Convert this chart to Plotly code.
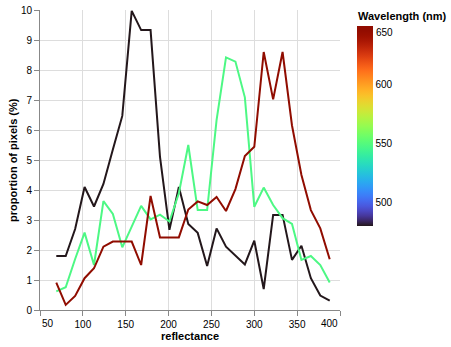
import plotly.graph_objects as go

# reflectance bin centres
reflectance = [69, 80, 91, 102, 113, 124, 135, 146, 157, 168,
               179, 190, 201, 212, 223, 234, 245, 256, 267, 278,
               289, 300, 311, 322, 333, 344, 355, 366, 377, 388]

# wavelengths (nm) of the three series
wavelengths = [480, 548, 650]

prop_480 = [1.8, 1.8, 2.7, 4.1, 3.45, 4.2, 5.35, 6.47, 9.97, 9.33,
            9.33, 5.1, 2.67, 4.1, 2.87, 2.57, 1.47, 2.72, 2.11, 1.83,
            1.52, 2.31, 0.7, 3.17, 3.17, 1.67, 2.14, 1.06, 0.48, 0.31]

prop_548 = [0.62, 0.76, 1.7, 2.58, 1.5, 3.63, 3.2, 2.09, 2.78, 3.47,
            3.02, 3.18, 2.95, 3.89, 5.5, 3.33, 3.33, 6.33, 8.42, 8.28,
            7.09, 3.44, 4.08, 3.5, 3.06, 2.87, 1.67, 1.8, 1.5, 0.92]

prop_650 = [0.91, 0.17, 0.47, 1.06, 1.39, 2.11, 2.28, 2.28, 2.28, 1.5,
            3.8, 2.42, 2.42, 2.42, 3.35, 3.62, 3.5, 3.77, 3.3, 4.03,
            5.13, 5.44, 8.6, 7.02, 8.6, 6.15, 4.5, 3.33, 2.72, 1.69]

series = [prop_480, prop_548, prop_650]

x_ticks = [50, 100, 150, 200, 250, 300, 350, 400]
y_ticks = [0, 1, 2, 3, 4, 5, 6, 7, 8, 9, 10]
colorbar_ticks = [500, 550, 600, 650]

wl_min, wl_max = 480, 650


def turbo(t):
    t = max(0.0, min(1.0, t))
    r = 34.61 + t * (1172.33 - t * (10793.56 - t * (33300.12 - t * (38394.49 - t * 14825.05))))
    g = 23.31 + t * (557.33 + t * (1225.33 - t * (3574.96 - t * (1073.77 + t * 707.56))))
    b = 27.2 + t * (3211.1 - t * (15327.97 - t * (27814 - t * (22569.18 - t * 6838.66))))
    c = [max(0, min(255, round(v))) for v in (r, g, b)]
    return "rgb(%d,%d,%d)" % tuple(c)


colorscale = [[i / 40, turbo(i / 40)] for i in range(41)]

FONT = "Liberation Sans, Arial, Helvetica, sans-serif"

# plot area in pixels
L, T, W, H = 40, 10, 300, 300
FIG_W, FIG_H = 451, 347


def px_x(p):
    return (p - L) / W


def px_y(p):
    return (T + H - p) / H


fig = go.Figure()
for wl, vals in zip(wavelengths, series):
    fig.add_trace(go.Scatter(
        x=reflectance, y=vals, mode="lines",
        line=dict(color=turbo((wl - wl_min) / (wl_max - wl_min)), width=2),
        showlegend=False, hoverinfo="skip",
    ))

bar_left, bar_top, bar_len, bar_th = 357, 26, 200, 16

# colour bar carrier
fig.add_trace(go.Scatter(
    x=[None], y=[None], mode="markers", showlegend=False,
    marker=dict(color=[wl_min], cmin=wl_min, cmax=wl_max, colorscale=colorscale,
                showscale=True,
                colorbar=dict(
                    x=px_x(bar_left), xanchor="left", xpad=0,
                    y=px_y(bar_top), yanchor="top", ypad=0,
                    lenmode="pixels", len=bar_len, thickness=bar_th,
                    outlinewidth=0, ticks="", tickvals=colorbar_ticks[:-1],
                    tickfont=dict(size=10, color="#000", family=FONT),
                )),
))

# top colorbar label (top-aligned like the reference)
fig.add_annotation(
    text=str(colorbar_ticks[-1]), xref="paper", yref="paper",
    x=px_x(bar_left + bar_th + 1), y=px_y(bar_top - 1), xanchor="left", yanchor="top",
    showarrow=False, font=dict(size=10, color="#000", family=FONT),
)

# flush end labels of the x axis
fig.add_annotation(
    text=str(x_ticks[0]), xref="x", yref="paper",
    x=x_ticks[0], y=px_y(316), xanchor="left", yanchor="top",
    showarrow=False, font=dict(size=10, color="#000", family=FONT),
)
fig.add_annotation(
    text=str(x_ticks[-1]), xref="x", yref="paper",
    x=x_ticks[-1], y=px_y(316), xanchor="right", yanchor="top",
    showarrow=False, font=dict(size=10, color="#000", family=FONT),
)

fig.add_annotation(
    text="<b>Wavelength (nm)</b>", xref="paper", yref="paper",
    x=px_x(bar_left - 1), y=px_y(8), xanchor="left", yanchor="top",
    showarrow=False, font=dict(size=11, color="#000", family=FONT),
)

fig.add_annotation(
    text="<b>reflectance</b>", xref="paper", yref="paper",
    x=0.5, y=px_y(344), xanchor="center", yanchor="bottom",
    showarrow=False, font=dict(size=11, color="#000", family=FONT),
)

fig.add_annotation(
    text="<b>proportion of pixels (%)</b>", xref="paper", yref="paper",
    x=px_x(5), y=0.5, xanchor="left", yanchor="middle", textangle=-90,
    showarrow=False, font=dict(size=11, color="#000", family=FONT),
)

axis_common = dict(
    showgrid=True, gridcolor="#ddd", gridwidth=1,
    showline=True, linecolor="#888", linewidth=1,
    ticks="outside", ticklen=5, tickcolor="#888", tickwidth=1,
    tickfont=dict(size=10, color="#000", family=FONT),
    zeroline=False, automargin=False,
)

x_ticktext = ["" if v in (x_ticks[0], x_ticks[-1]) else str(v) for v in x_ticks]

fig.update_layout(
    width=FIG_W, height=FIG_H,
    margin=dict(l=L, r=FIG_W - L - W, t=T, b=FIG_H - T - H, autoexpand=False),
    paper_bgcolor="white", plot_bgcolor="white",
    font=dict(family=FONT),
    xaxis=dict(range=[50, 400], tickvals=x_ticks, ticktext=x_ticktext, **axis_common),
    yaxis=dict(range=[0, 10], tickvals=y_ticks, **axis_common),
)

fig.write_html("out.html")
